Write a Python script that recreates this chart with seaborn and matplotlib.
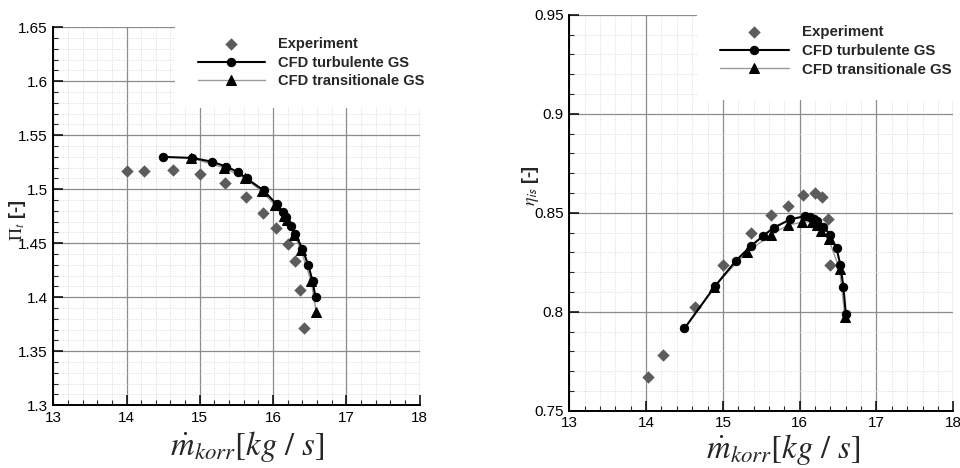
import numpy as np
import pandas as pd
import seaborn as sns
import matplotlib
matplotlib.use("Agg")
import matplotlib.pyplot as plt
from matplotlib.patches import Rectangle
from matplotlib.ticker import MultipleLocator

# ---------------- data ----------------
# Left panel: total pressure ratio
exp_m_pi = [14.01, 14.24, 14.64, 15.00, 15.35, 15.63, 15.86, 16.04, 16.21, 16.30, 16.37, 16.42]
exp_pi   = [1.517, 1.517, 1.518, 1.514, 1.506, 1.493, 1.478, 1.464, 1.449, 1.434, 1.407, 1.372]

turb_m_pi = [14.50, 14.90, 15.17, 15.36, 15.52, 15.64, 15.87, 16.05, 16.13, 16.18, 16.25, 16.30, 16.40, 16.48, 16.54, 16.58]
turb_pi   = [1.530, 1.529, 1.5255, 1.521, 1.516, 1.510, 1.499, 1.486, 1.479, 1.474, 1.466, 1.459, 1.445, 1.430, 1.415, 1.400]

trans_m_pi = [14.88, 15.33, 15.62, 15.85, 16.03, 16.15, 16.19, 16.29, 16.38, 16.52, 16.59]
trans_pi   = [1.529, 1.520, 1.510, 1.498, 1.485, 1.475, 1.472, 1.458, 1.444, 1.415, 1.386]

# Right panel: isentropic efficiency
exp_m_eta = [14.02, 14.22, 14.64, 15.00, 15.36, 15.63, 15.85, 16.04, 16.20, 16.29, 16.37, 16.40]
exp_eta   = [0.767, 0.778, 0.8025, 0.8236, 0.8396, 0.8488, 0.8535, 0.8589, 0.860, 0.8578, 0.8467, 0.8236]

turb_m_eta = [14.50, 14.90, 15.17, 15.36, 15.52, 15.66, 15.88, 16.07, 16.13, 16.18, 16.22, 16.31, 16.40, 16.48, 16.53, 16.57, 16.60]
turb_eta   = [0.7916, 0.813, 0.8258, 0.833, 0.8382, 0.8424, 0.8467, 0.8483, 0.8478, 0.8468, 0.8458, 0.843, 0.8387, 0.832, 0.8236, 0.8123, 0.799]

trans_m_eta = [14.88, 15.31, 15.63, 15.85, 16.03, 16.16, 16.22, 16.28, 16.38, 16.52, 16.59]
trans_eta   = [0.8125, 0.830, 0.839, 0.8438, 0.8452, 0.8455, 0.8438, 0.841, 0.8365, 0.8214, 0.7975]

labels = ["Experiment", "CFD turbulente GS", "CFD transitionale GS"]
xticks = [13, 14, 15, 16, 17, 18]

# ---------------- style ----------------
sns.set_style("white")
plt.rcParams["font.family"] = ["Liberation Sans", "DejaVu Sans"]
plt.rcParams["mathtext.fontset"] = "stix"

fig = plt.figure(figsize=(9.6, 4.68), dpi=100)
axL = fig.add_axes([0.0555, 0.134, 0.3815, 0.8077])
axR = fig.add_axes([0.593, 0.1224, 0.400, 0.846])

EXP_C = "#5c5c5c"


def draw(ax, em, ev, tm, tv, rm, rv, ylim, ymajor, yminor, yfmt, ylabel,
         legbox, legpos, legsize):
    ax.set_axisbelow(True)
    df_e = pd.DataFrame({"m": em, "v": ev})
    df_t = pd.DataFrame({"m": tm, "v": tv})
    df_r = pd.DataFrame({"m": rm, "v": rv})

    sns.scatterplot(data=df_e, x="m", y="v", ax=ax, marker="D", s=40,
                    color=EXP_C, edgecolor=EXP_C, linewidth=0, zorder=3,
                    label=labels[0], legend=False)
    sns.lineplot(data=df_r, x="m", y="v", ax=ax, sort=False, estimator=None,
                 color="#9a9a9a", lw=1.0, marker="^", markersize=7.5,
                 markerfacecolor="black", markeredgecolor="black", zorder=4,
                 label=labels[2], legend=False)
    sns.lineplot(data=df_t, x="m", y="v", ax=ax, sort=False, estimator=None,
                 color="black", lw=1.5, marker="o", markersize=6,
                 markerfacecolor="black", markeredgecolor="black", zorder=5,
                 label=labels[1], legend=False)

    ax.set_xlim(13, 18)
    ax.set_ylim(*ylim)
    ax.set_xticks(xticks)
    ax.xaxis.set_minor_locator(MultipleLocator(0.2))
    ax.yaxis.set_major_locator(MultipleLocator(ymajor))
    ax.yaxis.set_minor_locator(MultipleLocator(yminor))
    ax.set_yticklabels([yfmt(t) for t in ax.get_yticks()])
    ax.set_ylim(*ylim)

    ax.grid(True, which="major", color="#8c8c8c", lw=0.9, ls="-")
    ax.grid(True, which="minor", color="#dadada", lw=0.7, ls=(0, (1, 1.5)))

    for s in ["top", "right"]:
        ax.spines[s].set_visible(False)
    for s in ["left", "bottom"]:
        ax.spines[s].set_visible(True)
        ax.spines[s].set_color("black")
        ax.spines[s].set_linewidth(1.4)

    ax.tick_params(which="major", direction="in", length=7, width=1.1,
                   labelsize=11, colors="black", top=False, right=False,
                   bottom=True, left=True, pad=4)
    ax.tick_params(which="minor", direction="in", length=3.5, width=0.8,
                   top=False, right=False, bottom=True, left=True)

    # white legend area covering the grid
    ax.add_patch(Rectangle((legbox[0], legbox[1]), 1 - legbox[0] + 0.01,
                           1 - legbox[1] + 0.01, transform=ax.transAxes,
                           facecolor="white", edgecolor="none", zorder=2,
                           clip_on=False))

    handles, labs = ax.get_legend_handles_labels()
    order = [labs.index(l) for l in labels]
    leg = ax.legend([handles[i] for i in order], [labs[i] for i in order],
                    loc="upper left", bbox_to_anchor=legpos, frameon=False,
                    borderpad=0, borderaxespad=0, handlelength=4.6,
                    handletextpad=0.9, labelspacing=0.32,
                    prop={"weight": "bold", "size": legsize}, markerscale=1.0)
    leg.set_zorder(6)

    xl = ax.set_xlabel(r"$\dot{m}_{korr}[kg\ /\ s]$", fontsize=23.5)
    xl.set_va("center")
    yl = ax.set_ylabel(ylabel, fontsize=13, fontweight="bold")
    yl.set_va("center")


draw(axL, exp_m_pi, exp_pi, turb_m_pi, turb_pi, trans_m_pi, trans_pi,
     (1.3, 1.65), 0.05, 0.01,
     lambda t: f"{t:.2f}".rstrip("0").rstrip("."),
     r"$\Pi_t$ [-]", (0.332, 0.786), (0.395, 0.974), 10.5)
axL.xaxis.set_label_coords(0.529, -0.11)
axL.yaxis.set_label_coords(-0.097, 0.49)

draw(axR, exp_m_eta, exp_eta, turb_m_eta, turb_eta, trans_m_eta, trans_eta,
     (0.75, 0.95), 0.05, 0.01,
     lambda t: f"{t:.2f}".rstrip("0").rstrip("."),
     r"$\eta_{\mathsf{is}}$ [-]", (0.3326, 0.785), (0.392, 0.974), 10.8)
axR.xaxis.set_label_coords(0.556, -0.099)
axR.yaxis.set_label_coords(-0.102, 0.57)

fig.savefig("out.png", dpi=100)
